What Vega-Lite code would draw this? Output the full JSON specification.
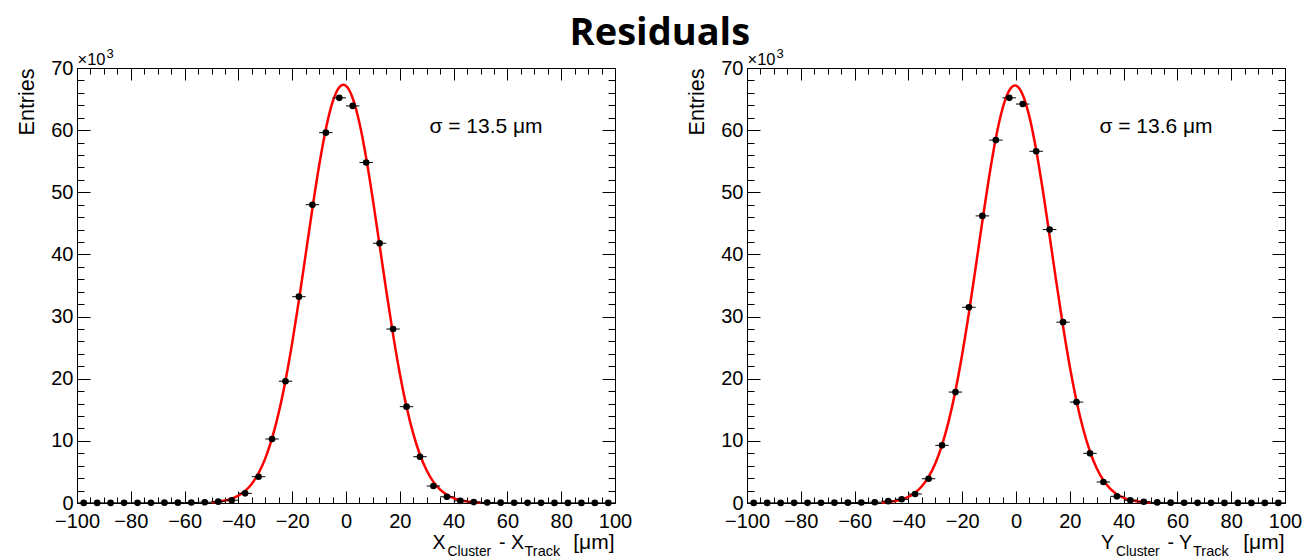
{
  "$schema": "https://vega.github.io/schema/vega-lite/v6.json",
  "padding": {"left": 15, "top": 15, "right": 16, "bottom": 4},
  "background": "#ffffff",
  "title": {"text": "Residuals", "anchor": "middle", "font": "Open Sans", "fontSize": 38, "fontWeight": "bold", "color": "#000000", "offset": -6, "dx": 1},
  "config": {
    "font": "Liberation Sans",
    "view": {"stroke": "#000000", "strokeWidth": 1},
    "axis": {"grid": false, "domain": false, "tickColor": "#000000", "tickWidth": 1, "labelColor": "#000000", "labelFont": "Liberation Sans", "labelFontSize": 20, "labelOverlap": false, "labelFlush": false, "labelBound": false, "titleFont": "Liberation Sans", "titleFontSize": 21.5, "titleFontWeight": "normal", "titleColor": "#000000"}
  },
  "bounds": "flush",
  "spacing": 132,
  "datasets": {
    "fitX": [
      {"x": -50, "y": 0.113}, {"x": -47.5, "y": 0.214}, {"x": -45, "y": 0.391}, {"x": -42.5, "y": 0.69}, {"x": -40, "y": 1.178}, {"x": -37.5, "y": 1.946}, {"x": -35, "y": 3.111}, {"x": -32.5, "y": 4.807}, {"x": -30, "y": 7.186}, {"x": -27.5, "y": 10.4}, {"x": -25, "y": 14.55}, {"x": -22.5, "y": 19.69}, {"x": -20, "y": 25.77}, {"x": -17.5, "y": 32.63}, {"x": -15, "y": 39.96}, {"x": -12.5, "y": 47.35}, {"x": -10, "y": 54.26}, {"x": -7.5, "y": 60.15}, {"x": -5, "y": 64.49}, {"x": -2.5, "y": 66.9}, {"x": -1, "y": 67.3}, {"x": 0, "y": 67.12}, {"x": 2.5, "y": 65.14}, {"x": 5, "y": 61.16}, {"x": 7.5, "y": 55.54}, {"x": 10, "y": 48.78}, {"x": 12.5, "y": 41.45}, {"x": 15, "y": 34.07}, {"x": 17.5, "y": 27.09}, {"x": 20, "y": 20.83}, {"x": 22.5, "y": 15.49}, {"x": 25, "y": 11.15}, {"x": 27.5, "y": 7.76}, {"x": 30, "y": 5.22}, {"x": 32.5, "y": 3.4}, {"x": 35, "y": 2.14}, {"x": 37.5, "y": 1.31}, {"x": 40, "y": 0.77}, {"x": 42.5, "y": 0.439}, {"x": 45, "y": 0.242}, {"x": 47.5, "y": 0.129}, {"x": 50, "y": 0.067}
    ],
    "fitY": [
      {"x": -50, "y": 0.09}, {"x": -47.5, "y": 0.173}, {"x": -45, "y": 0.32}, {"x": -42.5, "y": 0.573}, {"x": -40, "y": 0.992}, {"x": -37.5, "y": 1.661}, {"x": -35, "y": 2.69}, {"x": -32.5, "y": 4.211}, {"x": -30, "y": 6.374}, {"x": -27.5, "y": 9.33}, {"x": -25, "y": 13.21}, {"x": -22.5, "y": 18.08}, {"x": -20, "y": 23.93}, {"x": -17.5, "y": 30.62}, {"x": -15, "y": 37.89}, {"x": -12.5, "y": 45.34}, {"x": -10, "y": 52.46}, {"x": -7.5, "y": 58.69}, {"x": -5, "y": 63.48}, {"x": -2.5, "y": 66.41}, {"x": -0.4, "y": 67.2}, {"x": 0, "y": 67.17}, {"x": 2.5, "y": 65.7}, {"x": 5, "y": 62.13}, {"x": 7.5, "y": 56.82}, {"x": 10, "y": 50.25}, {"x": 12.5, "y": 42.96}, {"x": 15, "y": 35.52}, {"x": 17.5, "y": 28.4}, {"x": 20, "y": 21.96}, {"x": 22.5, "y": 16.41}, {"x": 25, "y": 11.86}, {"x": 27.5, "y": 8.29}, {"x": 30, "y": 5.6}, {"x": 32.5, "y": 3.66}, {"x": 35, "y": 2.31}, {"x": 37.5, "y": 1.41}, {"x": 40, "y": 0.836}, {"x": 42.5, "y": 0.477}, {"x": 45, "y": 0.264}, {"x": 47.5, "y": 0.141}, {"x": 50, "y": 0.073}
    ],
    "ptsX": [
      {"x": -97.5, "lo": -100, "hi": -95, "n": 0.02}, {"x": -92.5, "lo": -95, "hi": -90, "n": 0.02}, {"x": -87.5, "lo": -90, "hi": -85, "n": 0.02}, {"x": -82.5, "lo": -85, "hi": -80, "n": 0.03}, {"x": -77.5, "lo": -80, "hi": -75, "n": 0.03}, {"x": -72.5, "lo": -75, "hi": -70, "n": 0.04}, {"x": -67.5, "lo": -70, "hi": -65, "n": 0.05}, {"x": -62.5, "lo": -65, "hi": -60, "n": 0.06}, {"x": -57.5, "lo": -60, "hi": -55, "n": 0.08}, {"x": -52.5, "lo": -55, "hi": -50, "n": 0.12},
      {"x": -47.5, "lo": -50, "hi": -45, "n": 0.22}, {"x": -42.5, "lo": -45, "hi": -40, "n": 0.45}, {"x": -37.5, "lo": -40, "hi": -35, "n": 1.55}, {"x": -32.5, "lo": -35, "hi": -30, "n": 4.23}, {"x": -27.5, "lo": -30, "hi": -25, "n": 10.3}, {"x": -22.5, "lo": -25, "hi": -20, "n": 19.6}, {"x": -17.5, "lo": -20, "hi": -15, "n": 33.2}, {"x": -12.5, "lo": -15, "hi": -10, "n": 48.0}, {"x": -7.5, "lo": -10, "hi": -5, "n": 59.6}, {"x": -2.5, "lo": -5, "hi": 0, "n": 65.2},
      {"x": 2.5, "lo": 0, "hi": 5, "n": 63.9}, {"x": 7.5, "lo": 5, "hi": 10, "n": 54.8}, {"x": 12.5, "lo": 10, "hi": 15, "n": 41.8}, {"x": 17.5, "lo": 15, "hi": 20, "n": 28.0}, {"x": 22.5, "lo": 20, "hi": 25, "n": 15.5}, {"x": 27.5, "lo": 25, "hi": 30, "n": 7.45}, {"x": 32.5, "lo": 30, "hi": 35, "n": 2.73}, {"x": 37.5, "lo": 35, "hi": 40, "n": 1.0}, {"x": 42.5, "lo": 40, "hi": 45, "n": 0.35}, {"x": 47.5, "lo": 45, "hi": 50, "n": 0.15},
      {"x": 52.5, "lo": 50, "hi": 55, "n": 0.08}, {"x": 57.5, "lo": 55, "hi": 60, "n": 0.05}, {"x": 62.5, "lo": 60, "hi": 65, "n": 0.04}, {"x": 67.5, "lo": 65, "hi": 70, "n": 0.03}, {"x": 72.5, "lo": 70, "hi": 75, "n": 0.03}, {"x": 77.5, "lo": 75, "hi": 80, "n": 0.02}, {"x": 82.5, "lo": 80, "hi": 85, "n": 0.02}, {"x": 87.5, "lo": 85, "hi": 90, "n": 0.02}, {"x": 92.5, "lo": 90, "hi": 95, "n": 0.02}, {"x": 97.5, "lo": 95, "hi": 100, "n": 0.02}
    ],
    "ptsY": [
      {"x": -97.5, "lo": -100, "hi": -95, "n": 0.02}, {"x": -92.5, "lo": -95, "hi": -90, "n": 0.02}, {"x": -87.5, "lo": -90, "hi": -85, "n": 0.02}, {"x": -82.5, "lo": -85, "hi": -80, "n": 0.03}, {"x": -77.5, "lo": -80, "hi": -75, "n": 0.03}, {"x": -72.5, "lo": -75, "hi": -70, "n": 0.04}, {"x": -67.5, "lo": -70, "hi": -65, "n": 0.05}, {"x": -62.5, "lo": -65, "hi": -60, "n": 0.06}, {"x": -57.5, "lo": -60, "hi": -55, "n": 0.08}, {"x": -52.5, "lo": -55, "hi": -50, "n": 0.12},
      {"x": -47.5, "lo": -50, "hi": -45, "n": 0.3}, {"x": -42.5, "lo": -45, "hi": -40, "n": 0.6}, {"x": -37.5, "lo": -40, "hi": -35, "n": 1.45}, {"x": -32.5, "lo": -35, "hi": -30, "n": 3.9}, {"x": -27.5, "lo": -30, "hi": -25, "n": 9.28}, {"x": -22.5, "lo": -25, "hi": -20, "n": 17.85}, {"x": -17.5, "lo": -20, "hi": -15, "n": 31.5}, {"x": -12.5, "lo": -15, "hi": -10, "n": 46.2}, {"x": -7.5, "lo": -10, "hi": -5, "n": 58.4}, {"x": -2.5, "lo": -5, "hi": 0, "n": 65.2},
      {"x": 2.5, "lo": 0, "hi": 5, "n": 64.2}, {"x": 7.5, "lo": 5, "hi": 10, "n": 56.6}, {"x": 12.5, "lo": 10, "hi": 15, "n": 44.0}, {"x": 17.5, "lo": 15, "hi": 20, "n": 29.1}, {"x": 22.5, "lo": 20, "hi": 25, "n": 16.24}, {"x": 27.5, "lo": 25, "hi": 30, "n": 7.99}, {"x": 32.5, "lo": 30, "hi": 35, "n": 3.38}, {"x": 37.5, "lo": 35, "hi": 40, "n": 1.07}, {"x": 42.5, "lo": 40, "hi": 45, "n": 0.45}, {"x": 47.5, "lo": 45, "hi": 50, "n": 0.2},
      {"x": 52.5, "lo": 50, "hi": 55, "n": 0.1}, {"x": 57.5, "lo": 55, "hi": 60, "n": 0.06}, {"x": 62.5, "lo": 60, "hi": 65, "n": 0.04}, {"x": 67.5, "lo": 65, "hi": 70, "n": 0.03}, {"x": 72.5, "lo": 70, "hi": 75, "n": 0.03}, {"x": 77.5, "lo": 75, "hi": 80, "n": 0.02}, {"x": 82.5, "lo": 80, "hi": 85, "n": 0.02}, {"x": 87.5, "lo": 85, "hi": 90, "n": 0.02}, {"x": 92.5, "lo": 90, "hi": 95, "n": 0.02}, {"x": 97.5, "lo": 95, "hi": 100, "n": 0.02}
    ]
  },
  "hconcat": [
    {
      "width": 538,
      "height": 435,
      "resolve": {"axis": {"x": "independent", "y": "independent"}},
      "layer": [
        {
          "data": {"name": "fitX"},
          "mark": {"type": "line", "color": "#ff0000", "strokeWidth": 2.5, "interpolate": "monotone"},
          "encoding": {
            "x": {"field": "x", "type": "quantitative", "scale": {"domain": [-100, 100], "nice": false},
              "axis": {"orient": "bottom", "title": null, "values": [-100,-95,-90,-85,-80,-75,-70,-65,-60,-55,-50,-45,-40,-35,-30,-25,-20,-15,-10,-5,0,5,10,15,20,25,30,35,40,45,50,55,60,65,70,75,80,85,90,95,100],
                "tickSize": {"condition": {"test": "datum.value % 20 === 0", "value": -12}, "value": -6},
                "labelExpr": "datum.value % 20 === 0 ? datum.label : ''", "labelPadding": 20}},
            "y": {"field": "y", "type": "quantitative", "scale": {"domain": [0, 70], "nice": false},
              "axis": {"orient": "left", "title": "Entries", "titleX": -44, "titleY": 0, "titleAlign": "right", "titleAngle": 270, "titleBaseline": "alphabetic",
                "values": [0,2,4,6,8,10,12,14,16,18,20,22,24,26,28,30,32,34,36,38,40,42,44,46,48,50,52,54,56,58,60,62,64,66,68,70],
                "tickSize": {"condition": {"test": "datum.value % 10 === 0", "value": -13}, "value": -7},
                "labelExpr": "datum.value % 10 === 0 ? datum.label : ''", "labelPadding": 17}}
          }
        },
        {
          "data": {"name": "ptsX"},
          "mark": {"type": "rule", "color": "#000000", "strokeWidth": 1},
          "encoding": {
            "x": {"field": "lo", "type": "quantitative", "scale": {"domain": [-100, 100], "nice": false},
              "axis": {"orient": "top", "title": null, "labels": false, "values": [-100,-95,-90,-85,-80,-75,-70,-65,-60,-55,-50,-45,-40,-35,-30,-25,-20,-15,-10,-5,0,5,10,15,20,25,30,35,40,45,50,55,60,65,70,75,80,85,90,95,100],
                "tickSize": {"condition": {"test": "datum.value % 20 === 0", "value": -12}, "value": -6}}},
            "x2": {"field": "hi"},
            "y": {"field": "n", "type": "quantitative", "scale": {"domain": [0, 70], "nice": false},
              "axis": {"orient": "right", "title": null, "labels": false, "values": [0,2,4,6,8,10,12,14,16,18,20,22,24,26,28,30,32,34,36,38,40,42,44,46,48,50,52,54,56,58,60,62,64,66,68,70],
                "tickSize": {"condition": {"test": "datum.value % 10 === 0", "value": -13}, "value": -7}}}
          }
        },
        {
          "data": {"name": "ptsX"},
          "mark": {"type": "circle", "color": "#000000", "opacity": 1, "size": 44},
          "encoding": {
            "x": {"field": "x", "type": "quantitative", "scale": {"domain": [-100, 100], "nice": false}, "axis": null},
            "y": {"field": "n", "type": "quantitative", "scale": {"domain": [0, 70], "nice": false}, "axis": null}
          }
        },
        {
          "data": {"values": [{"x": 31, "y": 59.5, "t": "σ = 13.5 μm"}]},
          "mark": {"type": "text", "align": "left", "baseline": "alphabetic", "fontSize": 21, "color": "#000000"},
          "encoding": {
            "x": {"field": "x", "type": "quantitative", "scale": {"domain": [-100, 100], "nice": false}, "axis": null},
            "y": {"field": "y", "type": "quantitative", "scale": {"domain": [0, 70], "nice": false}, "axis": null},
            "text": {"field": "t"}
          }
        },
        {
          "data": {"values": [{"t": "×10"}]},
          "mark": {"type": "text", "align": "left", "baseline": "alphabetic", "fontSize": 16.5, "dx": 0.5, "dy": -3, "color": "#000000"},
          "encoding": {
            "x": {"datum": -100, "type": "quantitative", "scale": {"domain": [-100, 100], "nice": false}, "axis": null},
            "y": {"datum": 70, "type": "quantitative", "scale": {"domain": [0, 70], "nice": false}, "axis": null},
            "text": {"field": "t"}
          }
        },
        {
          "data": {"values": [{"t": "3"}]},
          "mark": {"type": "text", "align": "left", "baseline": "alphabetic", "fontSize": 13, "dx": 29.5, "dy": -10.5, "color": "#000000"},
          "encoding": {
            "x": {"datum": -100, "type": "quantitative", "scale": {"domain": [-100, 100], "nice": false}, "axis": null},
            "y": {"datum": 70, "type": "quantitative", "scale": {"domain": [0, 70], "nice": false}, "axis": null},
            "text": {"field": "t"}
          }
        },
        {
          "data": {"values": [{"t": "X"}]},
          "mark": {"type": "text", "align": "left", "baseline": "alphabetic", "fontSize": 19.5, "dx": -182.5, "dy": 45.5, "color": "#000000"},
          "encoding": {
            "x": {"datum": 100, "type": "quantitative", "scale": {"domain": [-100, 100], "nice": false}, "axis": null},
            "y": {"datum": 0, "type": "quantitative", "scale": {"domain": [0, 70], "nice": false}, "axis": null},
            "text": {"field": "t"}
          }
        },
        {
          "data": {"values": [{"t": "Cluster"}]},
          "mark": {"type": "text", "align": "left", "baseline": "alphabetic", "fontSize": 13.8, "dx": -167.5, "dy": 53, "color": "#000000"},
          "encoding": {
            "x": {"datum": 100, "type": "quantitative", "scale": {"domain": [-100, 100], "nice": false}, "axis": null},
            "y": {"datum": 0, "type": "quantitative", "scale": {"domain": [0, 70], "nice": false}, "axis": null},
            "text": {"field": "t"}
          }
        },
        {
          "data": {"values": [{"t": "- X"}]},
          "mark": {"type": "text", "align": "left", "baseline": "alphabetic", "fontSize": 19.5, "dx": -116, "dy": 45.5, "color": "#000000"},
          "encoding": {
            "x": {"datum": 100, "type": "quantitative", "scale": {"domain": [-100, 100], "nice": false}, "axis": null},
            "y": {"datum": 0, "type": "quantitative", "scale": {"domain": [0, 70], "nice": false}, "axis": null},
            "text": {"field": "t"}
          }
        },
        {
          "data": {"values": [{"t": "Track"}]},
          "mark": {"type": "text", "align": "left", "baseline": "alphabetic", "fontSize": 14.5, "dx": -90.5, "dy": 53, "color": "#000000"},
          "encoding": {
            "x": {"datum": 100, "type": "quantitative", "scale": {"domain": [-100, 100], "nice": false}, "axis": null},
            "y": {"datum": 0, "type": "quantitative", "scale": {"domain": [0, 70], "nice": false}, "axis": null},
            "text": {"field": "t"}
          }
        },
        {
          "data": {"values": [{"t": "[μm]"}]},
          "mark": {"type": "text", "align": "right", "baseline": "alphabetic", "fontSize": 21, "dx": -0.5, "dy": 45.5, "color": "#000000"},
          "encoding": {
            "x": {"datum": 100, "type": "quantitative", "scale": {"domain": [-100, 100], "nice": false}, "axis": null},
            "y": {"datum": 0, "type": "quantitative", "scale": {"domain": [0, 70], "nice": false}, "axis": null},
            "text": {"field": "t"}
          }
        }
      ]
    },
    {
      "width": 538,
      "height": 435,
      "resolve": {"axis": {"x": "independent", "y": "independent"}},
      "layer": [
        {
          "data": {"name": "fitY"},
          "mark": {"type": "line", "color": "#ff0000", "strokeWidth": 2.5, "interpolate": "monotone"},
          "encoding": {
            "x": {"field": "x", "type": "quantitative", "scale": {"domain": [-100, 100], "nice": false},
              "axis": {"orient": "bottom", "title": null, "values": [-100,-95,-90,-85,-80,-75,-70,-65,-60,-55,-50,-45,-40,-35,-30,-25,-20,-15,-10,-5,0,5,10,15,20,25,30,35,40,45,50,55,60,65,70,75,80,85,90,95,100],
                "tickSize": {"condition": {"test": "datum.value % 20 === 0", "value": -12}, "value": -6},
                "labelExpr": "datum.value % 20 === 0 ? datum.label : ''", "labelPadding": 20}},
            "y": {"field": "y", "type": "quantitative", "scale": {"domain": [0, 70], "nice": false},
              "axis": {"orient": "left", "title": "Entries", "titleX": -44, "titleY": 0, "titleAlign": "right", "titleAngle": 270, "titleBaseline": "alphabetic",
                "values": [0,2,4,6,8,10,12,14,16,18,20,22,24,26,28,30,32,34,36,38,40,42,44,46,48,50,52,54,56,58,60,62,64,66,68,70],
                "tickSize": {"condition": {"test": "datum.value % 10 === 0", "value": -13}, "value": -7},
                "labelExpr": "datum.value % 10 === 0 ? datum.label : ''", "labelPadding": 17}}
          }
        },
        {
          "data": {"name": "ptsY"},
          "mark": {"type": "rule", "color": "#000000", "strokeWidth": 1},
          "encoding": {
            "x": {"field": "lo", "type": "quantitative", "scale": {"domain": [-100, 100], "nice": false},
              "axis": {"orient": "top", "title": null, "labels": false, "values": [-100,-95,-90,-85,-80,-75,-70,-65,-60,-55,-50,-45,-40,-35,-30,-25,-20,-15,-10,-5,0,5,10,15,20,25,30,35,40,45,50,55,60,65,70,75,80,85,90,95,100],
                "tickSize": {"condition": {"test": "datum.value % 20 === 0", "value": -12}, "value": -6}}},
            "x2": {"field": "hi"},
            "y": {"field": "n", "type": "quantitative", "scale": {"domain": [0, 70], "nice": false},
              "axis": {"orient": "right", "title": null, "labels": false, "values": [0,2,4,6,8,10,12,14,16,18,20,22,24,26,28,30,32,34,36,38,40,42,44,46,48,50,52,54,56,58,60,62,64,66,68,70],
                "tickSize": {"condition": {"test": "datum.value % 10 === 0", "value": -13}, "value": -7}}}
          }
        },
        {
          "data": {"name": "ptsY"},
          "mark": {"type": "circle", "color": "#000000", "opacity": 1, "size": 44},
          "encoding": {
            "x": {"field": "x", "type": "quantitative", "scale": {"domain": [-100, 100], "nice": false}, "axis": null},
            "y": {"field": "n", "type": "quantitative", "scale": {"domain": [0, 70], "nice": false}, "axis": null}
          }
        },
        {
          "data": {"values": [{"x": 31, "y": 59.5, "t": "σ = 13.6 μm"}]},
          "mark": {"type": "text", "align": "left", "baseline": "alphabetic", "fontSize": 21, "color": "#000000"},
          "encoding": {
            "x": {"field": "x", "type": "quantitative", "scale": {"domain": [-100, 100], "nice": false}, "axis": null},
            "y": {"field": "y", "type": "quantitative", "scale": {"domain": [0, 70], "nice": false}, "axis": null},
            "text": {"field": "t"}
          }
        },
        {
          "data": {"values": [{"t": "×10"}]},
          "mark": {"type": "text", "align": "left", "baseline": "alphabetic", "fontSize": 16.5, "dx": 0.5, "dy": -3, "color": "#000000"},
          "encoding": {
            "x": {"datum": -100, "type": "quantitative", "scale": {"domain": [-100, 100], "nice": false}, "axis": null},
            "y": {"datum": 70, "type": "quantitative", "scale": {"domain": [0, 70], "nice": false}, "axis": null},
            "text": {"field": "t"}
          }
        },
        {
          "data": {"values": [{"t": "3"}]},
          "mark": {"type": "text", "align": "left", "baseline": "alphabetic", "fontSize": 13, "dx": 29.5, "dy": -10.5, "color": "#000000"},
          "encoding": {
            "x": {"datum": -100, "type": "quantitative", "scale": {"domain": [-100, 100], "nice": false}, "axis": null},
            "y": {"datum": 70, "type": "quantitative", "scale": {"domain": [0, 70], "nice": false}, "axis": null},
            "text": {"field": "t"}
          }
        },
        {
          "data": {"values": [{"t": "Y"}]},
          "mark": {"type": "text", "align": "left", "baseline": "alphabetic", "fontSize": 19.5, "dx": -184, "dy": 45.5, "color": "#000000"},
          "encoding": {
            "x": {"datum": 100, "type": "quantitative", "scale": {"domain": [-100, 100], "nice": false}, "axis": null},
            "y": {"datum": 0, "type": "quantitative", "scale": {"domain": [0, 70], "nice": false}, "axis": null},
            "text": {"field": "t"}
          }
        },
        {
          "data": {"values": [{"t": "Cluster"}]},
          "mark": {"type": "text", "align": "left", "baseline": "alphabetic", "fontSize": 13.8, "dx": -169, "dy": 53, "color": "#000000"},
          "encoding": {
            "x": {"datum": 100, "type": "quantitative", "scale": {"domain": [-100, 100], "nice": false}, "axis": null},
            "y": {"datum": 0, "type": "quantitative", "scale": {"domain": [0, 70], "nice": false}, "axis": null},
            "text": {"field": "t"}
          }
        },
        {
          "data": {"values": [{"t": "- Y"}]},
          "mark": {"type": "text", "align": "left", "baseline": "alphabetic", "fontSize": 19.5, "dx": -117.5, "dy": 45.5, "color": "#000000"},
          "encoding": {
            "x": {"datum": 100, "type": "quantitative", "scale": {"domain": [-100, 100], "nice": false}, "axis": null},
            "y": {"datum": 0, "type": "quantitative", "scale": {"domain": [0, 70], "nice": false}, "axis": null},
            "text": {"field": "t"}
          }
        },
        {
          "data": {"values": [{"t": "Track"}]},
          "mark": {"type": "text", "align": "left", "baseline": "alphabetic", "fontSize": 14.5, "dx": -92, "dy": 53, "color": "#000000"},
          "encoding": {
            "x": {"datum": 100, "type": "quantitative", "scale": {"domain": [-100, 100], "nice": false}, "axis": null},
            "y": {"datum": 0, "type": "quantitative", "scale": {"domain": [0, 70], "nice": false}, "axis": null},
            "text": {"field": "t"}
          }
        },
        {
          "data": {"values": [{"t": "[μm]"}]},
          "mark": {"type": "text", "align": "right", "baseline": "alphabetic", "fontSize": 21, "dx": -0.5, "dy": 45.5, "color": "#000000"},
          "encoding": {
            "x": {"datum": 100, "type": "quantitative", "scale": {"domain": [-100, 100], "nice": false}, "axis": null},
            "y": {"datum": 0, "type": "quantitative", "scale": {"domain": [0, 70], "nice": false}, "axis": null},
            "text": {"field": "t"}
          }
        }
      ]
    }
  ]
}
